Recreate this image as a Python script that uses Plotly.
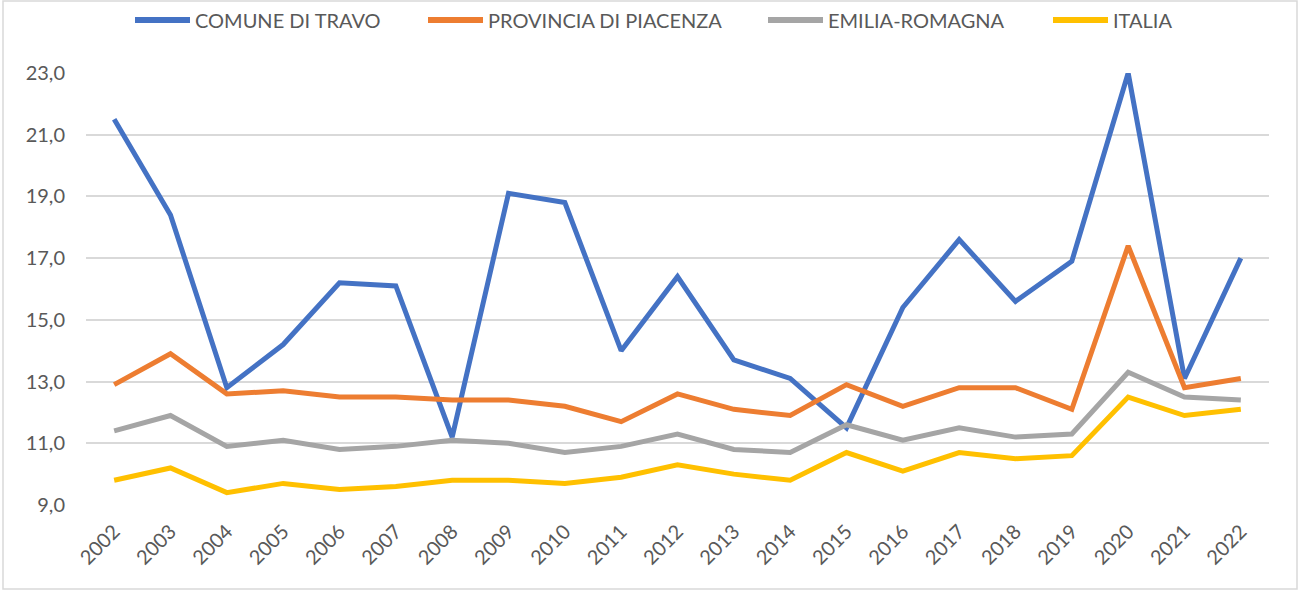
import plotly.graph_objects as go

years = [str(y) for y in range(2002, 2023)]

comune_travo = [21.5, 18.4, 12.8, 14.2, 16.2, 16.1, 11.2, 19.1, 18.8, 14.0, 16.4,
                13.7, 13.1, 11.5, 15.4, 17.6, 15.6, 16.9, 23.0, 13.1, 17.0]
provincia_piacenza = [12.9, 13.9, 12.6, 12.7, 12.5, 12.5, 12.4, 12.4, 12.2, 11.7, 12.6,
                      12.1, 11.9, 12.9, 12.2, 12.8, 12.8, 12.1, 17.4, 12.8, 13.1]
emilia_romagna = [11.4, 11.9, 10.9, 11.1, 10.8, 10.9, 11.1, 11.0, 10.7, 10.9, 11.3,
                  10.8, 10.7, 11.6, 11.1, 11.5, 11.2, 11.3, 13.3, 12.5, 12.4]
italia = [9.8, 10.2, 9.4, 9.7, 9.5, 9.6, 9.8, 9.8, 9.7, 9.9, 10.3,
          10.0, 9.8, 10.7, 10.1, 10.7, 10.5, 10.6, 12.5, 11.9, 12.1]

series_names = ["COMUNE DI TRAVO", "PROVINCIA DI PIACENZA", "EMILIA-ROMAGNA", "ITALIA"]
series_values = [comune_travo, provincia_piacenza, emilia_romagna, italia]
series_colors = ["#4472C4", "#ED7D31", "#A5A5A5", "#FFC000"]

y_ticks = [9, 11, 13, 15, 17, 19, 21, 23]

FONT = "Lato"
TEXT_COLOR = "#595959"

W, H = 1299, 590
M_L, M_R, M_T, M_B = 86, 30, 73, 85
PW, PH = W - M_L - M_R, H - M_T - M_B


def px_x(px):
    return (px - M_L) / PW


def px_y(py):
    return 1 - (py - M_T) / PH


fig = go.Figure()
for name, vals, color in zip(series_names, series_values, series_colors):
    fig.add_trace(go.Scatter(
        x=years, y=vals, name=name, mode="lines",
        line=dict(color=color, width=5),
    ))

fig.update_layout(
    width=W, height=H,
    margin=dict(l=M_L, r=M_R, t=M_T, b=M_B),
    paper_bgcolor="white", plot_bgcolor="white",
    separators=",.",
    font=dict(family=FONT, size=20, color=TEXT_COLOR),
    showlegend=False,
    xaxis=dict(
        type="category", range=[-0.5, len(years) - 0.5], tickangle=-45,
        showgrid=False, zeroline=False, automargin=False,
        showline=False, ticks="", ticklabelstandoff=10,
        tickfont=dict(family=FONT, size=20, color=TEXT_COLOR),
    ),
    yaxis=dict(
        range=[9, 23], tickvals=y_ticks, tickformat=".1f", automargin=False,
        showgrid=True, gridcolor="#D9D9D9", gridwidth=1.5,
        zeroline=False, showline=False, ticks="", ticklabelstandoff=20,
        tickfont=dict(family=FONT, size=20, color=TEXT_COLOR),
    ),
)

# legend row across the top: a short thick line followed by the series name
legend_x = [135, 428, 768, 1053]
legend_len = 55
legend_y = 20
for name, color, lx in zip(series_names, series_colors, legend_x):
    fig.add_shape(
        type="line", xref="paper", yref="paper",
        x0=px_x(lx), x1=px_x(lx + legend_len), y0=px_y(legend_y), y1=px_y(legend_y),
        line=dict(color=color, width=6),
    )
    fig.add_annotation(
        text=name, xref="paper", yref="paper",
        x=px_x(lx + legend_len + 3), y=px_y(legend_y),
        xanchor="left", yanchor="middle", showarrow=False,
        font=dict(family=FONT, size=20, color=TEXT_COLOR),
    )

# thin chart-area border
fig.add_shape(
    type="rect", xref="paper", yref="paper",
    x0=px_x(3), x1=px_x(1297), y0=px_y(589), y1=px_y(1),
    line=dict(color="#D9D9D9", width=1.5), fillcolor="rgba(0,0,0,0)",
)

fig.write_html("out.html")
